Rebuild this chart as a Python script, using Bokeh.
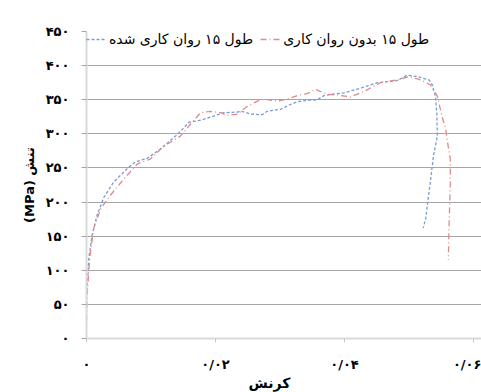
from bokeh.plotting import figure
from bokeh.models import (ColumnDataSource, FixedTicker, Legend, LegendItem,
                          Title)
from bokeh.embed import file_html
from bokeh.resources import INLINE

# ---- data ----
lub_strain = [0.00005, 0.0001, 0.00036, 0.00088, 0.00165, 0.0027, 0.0042, 0.0063,
              0.0076, 0.0094, 0.0115, 0.0141, 0.0159, 0.0177, 0.0197, 0.0213,
              0.0234, 0.0241, 0.0254, 0.0272, 0.0280, 0.0301, 0.0316, 0.0327,
              0.0342, 0.0358, 0.0368, 0.0389, 0.0399, 0.0425, 0.0451, 0.0482,
              0.0497, 0.0513, 0.0531, 0.0536, 0.0541, 0.0543, 0.0544, 0.0538,
              0.0533, 0.0529, 0.0526, 0.0522]
lub_stress = [70, 74, 118, 152, 181, 207, 229, 249,
              259, 264, 278, 299, 317, 320, 326, 331,
              332, 333, 329, 328, 333, 336, 343, 347,
              349, 350, 356, 359, 360, 367, 375, 378,
              386, 384, 379, 372, 355, 331, 297, 268,
              229, 200, 176, 162]

dry_strain = [0.0, 0.0001, 0.0005, 0.0011, 0.0022, 0.0037, 0.0058, 0.0079,
              0.0099, 0.0120, 0.0146, 0.0161, 0.0177, 0.0192, 0.0208, 0.0218,
              0.0234, 0.0249, 0.0265, 0.0275, 0.0296, 0.0311, 0.0327, 0.0342,
              0.0355, 0.0373, 0.0389, 0.0409, 0.0430, 0.0456, 0.0487, 0.0500,
              0.0518, 0.0533, 0.0544, 0.0551, 0.0557, 0.0559, 0.0564, 0.0564,
              0.0563, 0.0562, 0.0561]
dry_stress = [26, 64, 118, 161, 190, 210, 234, 256,
              263, 282, 297, 314, 331, 333, 331, 327,
              329, 340, 348, 351, 348, 351, 356, 359,
              365, 358, 357, 354, 362, 375, 380, 384,
              379, 372, 355, 326, 307, 292, 263, 224,
              195, 161, 115]

y_ticks = [0, 50, 100, 150, 200, 250, 300, 350, 400, 450]
y_tick_labels = ["۰", "۵۰", "۱۰۰", "۱۵۰", "۲۰۰", "۲۵۰", "۳۰۰", "۳۵۰", "۴۰۰", "۴۵۰"]
x_ticks = [0, 0.02, 0.04, 0.06]
x_tick_labels = ["۰", "۰/۰۲", "۰/۰۴", "۰/۰۶"]

lub_name = "طول ۱۵ روان کاری شده"
dry_name = "طول ۱۵ بدون روان کاری"
x_title = "کرنش"
y_title = "(MPa) تنش"

FONT = "DejaVu Sans"

p = figure(width=481, height=392, output_backend="svg", toolbar_location=None,
           x_range=(0, 0.06124), y_range=(0, 450),
           min_border_left=86, min_border_top=31, min_border_bottom=51,
           min_border_right=0)
p.outline_line_color = None
p.background_fill_color = "white"
p.border_fill_color = "white"

# grid
p.xgrid.visible = False
p.ygrid.ticker = FixedTicker(ticks=y_ticks[1:])
p.ygrid.grid_line_color = "#a6a6a6"
p.ygrid.grid_line_width = 1

# axes
p.yaxis.ticker = FixedTicker(ticks=y_ticks)
p.yaxis.major_label_overrides = {t: l for t, l in zip(y_ticks, y_tick_labels)}
p.xaxis.ticker = FixedTicker(ticks=x_ticks)
p.xaxis.major_label_overrides = {t: l for t, l in zip(x_ticks, x_tick_labels)}
for ax in (p.xaxis, p.yaxis):
    ax.axis_line_color = "#d9d9d9"
    ax.axis_line_width = 2
    ax.minor_tick_line_color = None
    ax.major_tick_in = 0
    ax.major_label_text_font = FONT
    ax.major_label_text_font_style = "bold"
    ax.major_label_text_font_size = "13px"
    ax.major_label_text_color = "black"
p.yaxis.major_tick_out = 5
p.yaxis.major_tick_line_color = "#a6a6a6"
p.yaxis.major_label_standoff = 12
p.yaxis.axis_label = y_title
p.yaxis.axis_label_standoff = 6
p.yaxis.axis_label_text_font = FONT
p.yaxis.axis_label_text_font_style = "bold"
p.yaxis.axis_label_text_font_size = "13px"
p.yaxis.axis_label_text_color = "black"
p.xaxis.major_tick_out = 4
p.xaxis.major_tick_line_color = "#c8c8c8"
p.xaxis.major_label_standoff = 14

src_l = ColumnDataSource(dict(x=lub_strain, y=lub_stress))
src_d = ColumnDataSource(dict(x=dry_strain, y=dry_stress))
r_l = p.line("x", "y", source=src_l, line_color="#7a9bd3", line_width=1.3,
             line_dash="3 2")
r_d = p.line("x", "y", source=src_d, line_color="#e08a8a", line_width=1.3,
             line_dash="6 3 1 3")

legend = Legend(items=[LegendItem(label=lub_name, renderers=[r_l]),
                       LegendItem(label=dry_name, renderers=[r_d])],
                orientation="horizontal", location="top_left",
                margin=0, padding=11, spacing=7, glyph_width=20,
                label_standoff=3, label_height=16, glyph_height=16,
                label_text_font=FONT, label_text_font_size="14px",
                label_text_color="black",
                background_fill_alpha=0, border_line_color=None)
p.add_layout(legend)

p.add_layout(Title(text=x_title, align="left", offset=162, standoff=0,
                   vertical_align="top",
                   text_font=FONT, text_font_style="bold",
                   text_font_size="14px", text_color="black"), "below")

open("out.html", "w").write(file_html(p, INLINE))
